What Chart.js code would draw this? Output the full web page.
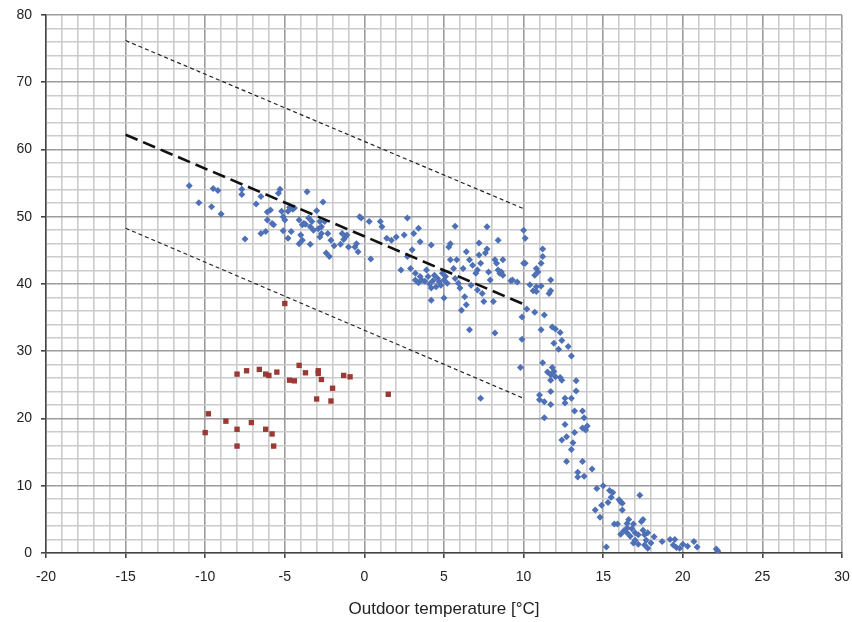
<!DOCTYPE html>
<html>
<head>
<meta charset="utf-8">
<script src="https://cdn.jsdelivr.net/npm/chart.js@4"></script>
<style>
  body { margin: 0; background: #fff; }
  canvas { display: block; }
</style>
</head>
<body>
<canvas id="scatterChart" width="852" height="622"></canvas>
<script>
const ctxScatter = document.getElementById('scatterChart');

let measured = [
  [-11.0,54.6],[-10.4,52.1],[-9.5,54.2],[-9.2,53.9],[-9.6,51.5],[-9.0,50.4],[-7.7,54.1],[-7.7,53.3],
  [-7.5,46.7],[-6.8,51.9],[-6.5,53.0],[-6.5,47.5],[-6.2,47.8],[-6.1,50.7],[-5.9,51.0],[-6.1,49.5],
  [-5.8,49.0],[-5.7,48.8],[-5.4,53.5],[-5.3,54.1],[-5.2,50.8],[-5.1,50.0],[-5.0,49.5],[-4.8,50.8],
  [-4.7,51.4],[-4.5,51.1],[-5.1,47.9],[-4.8,46.8],[-4.6,47.8],[-4.1,49.5],[-3.8,49.0],[-4.0,47.3],
  [-4.1,46.0],[-3.6,53.7],[-2.6,52.2],[-4.4,51.3],[-3.9,48.8],[-3.5,49.8],[-3.4,48.5],[-3.3,49.3],
  [-3.0,50.9],[-2.8,49.3],[-2.7,48.5],[-2.5,49.3],[-2.7,47.5],[-3.9,46.5],[-3.4,45.9],[-2.8,47.0],
  [-2.3,47.5],[-2.4,44.6],[-2.2,44.1],[-2.1,46.5],[-1.9,45.7],[-1.4,47.5],[-1.2,47.0],[-1.1,47.3],
  [-1.5,45.9],[-1.0,45.5],[-0.6,45.5],[-0.5,46.0],[-0.4,44.8],[-0.3,50.0],[-0.2,49.8],[0.3,49.3],
  [0.4,43.7],[1.0,49.3],[1.1,48.5],[1.4,46.8],[1.7,46.5],[2.0,47.0],[2.5,47.3],[2.7,49.8],
  [3.1,47.5],[2.3,42.1],[2.9,42.3],[-3.7,48.9],[-3.2,48.0],[-2.9,48.2],[-1.3,46.6],
  [3.4,48.3],[3.5,46.3],[3.0,45.1],[2.7,44.1],[3.2,41.6],[3.2,40.6],[3.5,41.1],[3.6,40.6],
  [3.9,42.1],[4.0,41.1],[4.2,45.8],[4.2,39.4],[4.2,37.6],[4.4,41.3],[4.5,39.6],[4.6,40.8],
  [4.9,41.6],[5.0,37.9],[5.1,41.1],[5.2,40.1],[5.3,45.5],[5.4,43.6],[5.4,46.0],[5.6,42.3],
  [5.7,40.8],[5.7,48.6],[5.8,43.6],[5.9,40.1],[6.0,39.4],[6.1,36.1],[6.2,42.3],[6.3,38.1],
  [6.4,44.8],[6.4,36.9],[6.6,43.6],[6.6,33.2],[6.7,39.8],[6.8,42.8],[7.0,41.6],[7.1,42.1],
  [7.1,39.1],[7.2,44.3],[7.2,46.1],[7.3,43.1],[7.4,38.6],[7.5,37.4],[7.6,44.6],[7.7,48.5],
  [7.7,45.2],[7.8,41.8],[7.9,40.6],[8.1,37.4],[8.2,32.7],[8.2,43.6],[8.3,43.1],[8.4,46.5],
  [8.4,42.1],[8.5,41.6],[8.6,41.8],[8.7,43.6],[8.7,41.3],[9.2,40.5],[9.6,40.3],[9.9,35.1],
  [10.0,43.1],[10.0,48.0],[3.8,40.4],[4.1,40.0],[4.3,40.5],[4.7,40.3],[4.8,39.8],[5.0,40.6],
  [3.4,40.2],[7.3,23.0],
  [10.1,46.8],[10.1,43.1],[9.3,40.6],[11.2,45.2],[11.2,44.1],[11.1,43.1],[10.8,42.3],[10.9,41.8],
  [10.7,41.3],[10.4,39.9],[10.8,39.6],[11.1,39.7],[10.6,39.0],[10.8,38.9],[11.7,40.6],[11.6,38.6],
  [11.7,39.0],[10.2,36.3],[10.7,35.8],[11.3,35.4],[11.1,33.2],[11.8,33.6],[12.0,33.3],[12.3,32.8],
  [9.9,31.8],[11.9,31.2],[12.4,31.6],[12.2,30.3],[12.8,30.7],[13.0,29.3],[11.2,28.3],
  [9.8,27.6],[11.8,27.6],[11.9,27.0],[11.5,26.9],[11.7,26.5],[12.0,26.2],[12.3,26.1],[11.7,25.7],
  [12.4,25.7],[13.3,25.6],[11.7,24.0],[13.3,24.1],[11.0,23.5],[11.0,22.8],[11.3,22.5],[11.7,22.1],
  [12.6,23.0],[13.0,23.0],[12.6,22.3],[13.2,21.1],[13.7,21.1],[11.3,20.1],[13.8,20.1],[12.6,19.1],
  [14.0,18.9],[13.7,18.6],[13.9,18.3],[13.2,17.9],[12.7,17.3],[12.4,16.8],[13.1,16.4],[13.0,15.4],
  [12.7,13.6],[13.7,13.6],[13.4,12.0],[14.3,12.5],[13.8,11.4],[13.4,11.3],
  [14.6,9.6],[15.0,10.0],[15.4,9.3],[15.6,9.0],[15.5,8.3],[15.3,7.5],[14.9,7.1],[14.5,6.4],
  [14.8,5.3],[16.0,7.9],[16.1,7.6],[16.2,7.4],[16.2,6.4],[17.3,8.6],[15.7,4.3],[15.9,4.3],
  [16.1,2.8],[16.5,4.4],[16.6,5.0],[16.5,3.7],[16.5,3.0],[16.9,4.3],[16.7,2.5],[17.0,1.9],
  [17.2,2.7],[17.4,4.7],[17.5,5.0],[17.5,3.4],[17.2,1.3],[17.6,2.7],[17.7,1.9],[17.8,0.7],
  [17.8,3.0],[18.2,2.4],[17.6,1.2],[15.2,0.9],[18.7,1.7],[19.2,2.0],[19.5,2.0],[19.4,1.2],
  [19.6,0.8],[19.8,0.7],[20.0,1.3],[20.3,1.0],[20.7,1.7],[20.9,0.9],[22.1,0.6],[22.2,0.3],
  [16.3,3.3],[16.8,3.6],[17.0,3.0],[18.0,1.5],[16.9,1.5]
];

let outliers = [
  [-5.0,37.1],[-8.0,26.6],[-7.4,27.1],[-6.6,27.3],[-6.2,26.6],[-6.0,26.4],[-5.5,26.9],[-4.1,27.9],
  [-3.7,26.8],[-4.7,25.7],[-4.4,25.6],[-2.9,27.1],[-2.9,26.7],[-2.7,25.8],[-2.0,24.5],[-1.3,26.4],
  [-0.9,26.2],[-3.0,22.9],[-2.1,22.6],[1.5,23.6],[-9.8,20.7],[-10.0,17.9],[-8.7,19.6],[-8.0,18.4],
  [-7.1,19.4],[-6.2,18.4],[-5.8,17.7],[-8.0,15.9],[-5.7,15.9]
];

let lineTemps = [-15, 10];
let midLine = [62.2, 37.0];
let upperLine = [76.2, 51.2];
let lowerLine = [48.3, 23.0];

let xTitle = 'Outdoor temperature [°C]';

function toPoints(pairs) {
  return pairs.map(p => ({ x: p[0], y: p[1] }));
}

function linePoints(values) {
  return lineTemps.map((t, i) => ({ x: t, y: values[i] }));
}

Chart.defaults.font.family = "'Liberation Sans', Arial, sans-serif";
Chart.defaults.font.size = 14;
Chart.defaults.color = '#222';

const isMajorX = (c) => c.tick && c.tick.value % 5 === 0;
const isMajorY = (c) => c.tick && c.tick.value % 10 === 0;

const scatterChart = new Chart(ctxScatter, {
  type: 'scatter',
  data: {
    datasets: [
      {
        data: linePoints(midLine),
        showLine: true,
        borderColor: '#111',
        borderWidth: 2.6,
        borderDash: [13, 6],
        pointRadius: 0
      },
      {
        data: linePoints(upperLine),
        showLine: true,
        borderColor: '#222',
        borderWidth: 1.2,
        borderDash: [4, 3],
        pointRadius: 0
      },
      {
        data: linePoints(lowerLine),
        showLine: true,
        borderColor: '#222',
        borderWidth: 1.2,
        borderDash: [4, 3],
        pointRadius: 0
      },
      {
        data: toPoints(outliers),
        pointStyle: 'rect',
        pointRadius: 3.8,
        backgroundColor: '#9b3a35',
        borderWidth: 0
      },
      {
        data: toPoints(measured),
        pointStyle: 'rectRot',
        pointRadius: 3.5,
        backgroundColor: '#4d70b6',
        borderWidth: 0
      }
    ]
  },
  options: {
    responsive: false,
    animation: false,
    layout: {
      padding: { top: 15, right: 10, left: 0, bottom: 0 }
    },
    plugins: {
      legend: { display: false },
      tooltip: { enabled: false }
    },
    scales: {
      x: {
        type: 'linear',
        min: -20,
        max: 30,
        afterFit: (scale) => {
          scale.height = 69;
          scale.paddingLeft = 0;
          scale.paddingRight = 0;
        },
        ticks: {
          stepSize: 1,
          autoSkip: false,
          maxRotation: 0,
          padding: 11,
          callback: (v) => v % 5 === 0 ? v : ''
        },
        grid: {
          color: (c) => isMajorX(c) ? '#9c9c9c' : '#cbcbcb',
          lineWidth: 1.6,
          tickColor: (c) => isMajorX(c) ? '#444' : 'rgba(0,0,0,0)',
          tickLength: 5
        },
        border: { color: '#444', width: 1.5 },
        title: {
          display: true,
          text: xTitle,
          font: { size: 17 },
          padding: { top: 0, bottom: 2 }
        }
      },
      y: {
        min: 0,
        max: 80,
        afterFit: (scale) => {
          scale.width = 46;
          scale.paddingTop = 0;
          scale.paddingBottom = 0;
        },
        ticks: {
          stepSize: 2,
          autoSkip: false,
          padding: 9,
          callback: (v) => v % 10 === 0 ? v : ''
        },
        grid: {
          color: (c) => isMajorY(c) ? '#9c9c9c' : '#cbcbcb',
          lineWidth: 1.6,
          tickColor: (c) => isMajorY(c) ? '#444' : 'rgba(0,0,0,0)',
          tickLength: 5
        },
        border: { color: '#444', width: 1.5 }
      }
    }
  }
});
</script>
</body>
</html>
